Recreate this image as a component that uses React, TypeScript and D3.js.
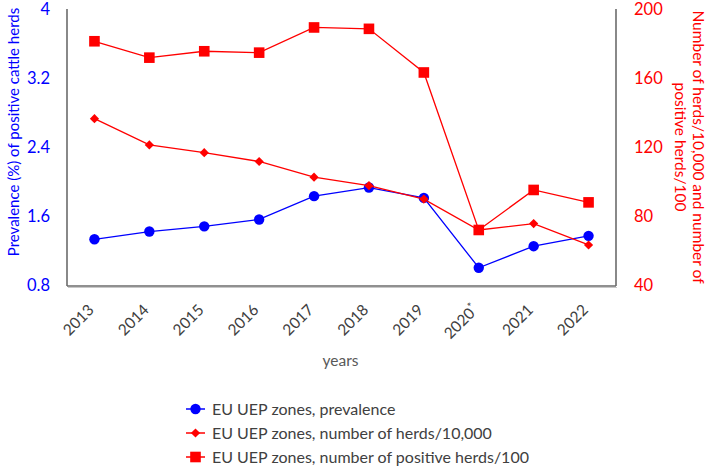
import React from "react";
import * as d3 from "d3";

const years = ["2013", "2014", "2015", "2016", "2017", "2018", "2019", "2020*", "2021", "2022"];
const prevalence = [1.33, 1.42, 1.48, 1.56, 1.83, 1.93, 1.81, 1.0, 1.25, 1.37];
const herdsPer10000 = [136.4, 121.2, 116.7, 111.6, 102.5, 97.6, 89.8, 71.9, 75.6, 63.2];
const positivePer100 = [181.3, 171.8, 175.5, 174.7, 189.3, 188.5, 163.2, 71.9, 95.1, 87.9];
const leftTicks = [0.8, 1.6, 2.4, 3.2, 4];
const rightTicks = [40, 80, 120, 160, 200];
const legendLabels = [
  "EU UEP zones, prevalence",
  "EU UEP zones, number of herds/10,000",
  "EU UEP zones, number of positive herds/100",
];

const W = 709;
const H = 467;
const margin = { top: 9, right: 93, bottom: 182, left: 67 };
const FONT = "Lato, 'Open Sans', sans-serif";

type Shape = "circle" | "diamond" | "square";

const Marker: React.FC<{ shape: Shape; x: number; y: number; color: string }> = ({ shape, x, y, color }) => {
  if (shape === "circle") return <circle cx={x} cy={y} r={5.2} fill={color} />;
  if (shape === "square") return <rect x={x - 5.3} y={y - 5.3} width={10.6} height={10.6} fill={color} />;
  const s = 4.6;
  return <path d={`M${x},${y - s}L${x + s},${y}L${x},${y + s}L${x - s},${y}Z`} fill={color} />;
};

export default function App() {
  const x0 = margin.left;
  const x1 = W - margin.right;
  const y0 = H - margin.bottom;
  const y1 = margin.top;

  const x = d3.scaleBand<string>().domain(years).range([x0, x1]);
  const cx = (d: string) => (x(d) || 0) + x.bandwidth() / 2;
  const yL = d3.scaleLinear().domain([0.8, 4]).range([y0, y1]);
  const yR = d3.scaleLinear().domain([40, 200]).range([y0, y1]);

  const series = [
    { values: prevalence, scale: yL, color: "#0000ff", shape: "circle" as Shape },
    { values: herdsPer10000, scale: yR, color: "#ff0000", shape: "diamond" as Shape },
    { values: positivePer100, scale: yR, color: "#ff0000", shape: "square" as Shape },
  ];

  const line = (vals: number[], s: d3.ScaleLinear<number, number>) =>
    d3.line<number>().x((_, i) => cx(years[i])).y((v) => s(v))(vals) || "";

  return (
    <svg width={W} height={H} style={{ position: "absolute", left: 0, top: 0, fontFamily: FONT }}>
      <rect width={W} height={H} fill="#fff" />
      {/* axes frame */}
      <line x1={x0} x2={x0} y1={y1} y2={y0 + 1} stroke="#6b6b6b" strokeWidth={1.6} />
      <line x1={x1} x2={x1} y1={y1} y2={y0 + 1} stroke="#6b6b6b" strokeWidth={1.6} />
      <line x1={x0} x2={x1} y1={y0 + 1} y2={y0 + 1} stroke="#6b6b6b" strokeWidth={1.6} />
      <line x1={x0 + 1} x2={x1 + 1} y1={y0 + 2.5} y2={y0 + 2.5} stroke="#c8c8c8" strokeWidth={1} />

      {/* left ticks */}
      {leftTicks.map((t) => (
        <text key={t} x={50} y={yL(t)} dy="0.36em" textAnchor="end" fill="#0000ff" fontSize={16.5}>
          {t}
        </text>
      ))}
      <text
        transform={`translate(14,${(y0 + y1) / 2 - 15}) rotate(-90)`}
        textAnchor="middle"
        dy="0.35em"
        fill="#0000ff"
        fontSize={15}
      >
        Prevalence (%) of positive cattle herds
      </text>

      {/* right ticks */}
      {rightTicks.map((t) => (
        <text key={t} x={634} y={yR(t)} dy="0.36em" textAnchor="start" fill="#ff0000" fontSize={16.5}>
          {t}
        </text>
      ))}
      <g transform={`translate(689,${(y0 + y1) / 2}) rotate(90)`} fill="#ff0000" fontSize={15.5} textAnchor="middle">
        <text y={-9} dy="0.35em">Number of herds/10,000 and number of</text>
        <text y={9} dy="0.35em">positive herds/100</text>
      </g>

      {/* x ticks */}
      {years.map((yr) => (
        <text
          key={yr}
          transform={`translate(${cx(yr) + 0.5},${y0 + 26}) rotate(-45)`}
          textAnchor="end"
          fill="#404040"
          fontSize={15.5}
        >
          {yr.replace("*", "")}
          {yr.includes("*") && <tspan fontSize={11} dy="-0.5em">*</tspan>}
        </text>
      ))}
      <text x={(x0 + x1) / 2 - 1} y={366} textAnchor="middle" fill="#595959" fontSize={15.5}>
        years
      </text>

      {/* series */}
      {series.map((s, si) => (
        <g key={si}>
          <path d={line(s.values, s.scale)} fill="none" stroke={s.color} strokeWidth={1.3} />
          {s.values.map((v, i) => (
            <Marker key={i} shape={s.shape} x={cx(years[i])} y={s.scale(v)} color={s.color} />
          ))}
        </g>
      ))}

      {/* legend */}
      {legendLabels.map((lab, i) => {
        const ly = 409 + i * 24;
        const s = series[i];
        return (
          <g key={lab}>
            <line x1={186} x2={205} y1={ly} y2={ly} stroke={s.color} strokeWidth={1.5} />
            <Marker shape={s.shape} x={195.5} y={ly} color={s.color} />
            <text x={212} y={ly} dy="0.35em" fill="#404040" fontSize={16}>
              {lab}
            </text>
          </g>
        );
      })}
    </svg>
  );
}
